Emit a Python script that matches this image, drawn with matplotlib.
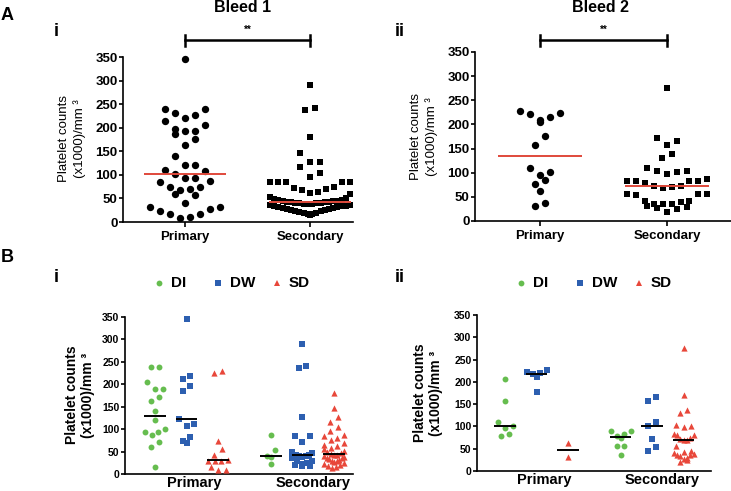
import numpy as np
import matplotlib
matplotlib.use('Agg')
import matplotlib.pyplot as plt
import matplotlib.transforms as mtransforms
from matplotlib.lines import Line2D

plt.rcParams['font.family'] = ['Liberation Sans', 'DejaVu Sans']

# ---------------- data ----------------
categories = ['Primary', 'Secondary']
groups = ['DI', 'DW', 'SD']

# Panel A (all patients)
bleed1_primary = [345, 240, 240, 232, 226, 220, 214, 206, 198, 192, 192, 186, 176, 164, 141,
                  121, 120, 110, 108, 101, 94, 94, 87, 84, 75, 75, 71, 68, 60, 57, 41, 31, 31,
                  28, 23, 16, 16, 11, 9]
bleed1_secondary = [291, 241, 237, 181, 147, 127, 127, 117, 103, 96, 84, 84, 84, 84, 84, 75, 73,
                    69, 68, 64, 62, 60, 52, 50, 48, 47, 46, 45, 44, 44, 43, 43, 42, 42, 41, 41,
                    40, 40, 39, 38, 38, 37, 36, 35, 34, 33, 32, 31, 30, 29, 28, 27, 26, 25, 24,
                    23, 22, 20, 19, 17, 16, 14]
bleed2_primary = [228, 223, 221, 215, 210, 206, 177, 158, 110, 101, 95, 84, 77, 62, 38, 31]
bleed2_secondary = [276, 171, 166, 157, 138, 130, 110, 104, 103, 102, 98, 88, 82, 82, 82, 82, 78,
                    73, 72, 71, 68, 56, 56, 55, 53, 41, 41, 40, 36, 36, 35, 32, 28, 26, 25, 18]

# Panel B (by group)
b1_primary = {
    'DI': [238, 238, 204, 190, 190, 172, 163, 140, 120, 100, 94, 94, 87, 71, 61, 15],
    'DW': [345, 218, 211, 197, 184, 122, 111, 108, 83, 74, 68],
    'SD': [230, 225, 73, 56, 42, 32, 30, 30, 28, 15, 10, 10],
}
b1_secondary = {
    'DI': [86, 54, 40, 38, 23],
    'DW': [290, 240, 236, 128, 85, 85, 72, 50, 46, 43, 42, 41, 40, 38, 35, 30, 28, 25, 22, 20, 18, 17],
    'SD': [180, 147, 127, 117, 105, 96, 86, 84, 80, 75, 70, 65, 62, 58, 55, 52, 48, 46, 44, 43, 42,
           40, 38, 36, 35, 33, 31, 30, 28, 26, 24, 22, 20, 17, 15, 13],
}
b2_primary = {
    'DI': [207, 158, 109, 102, 96, 84, 78],
    'DW': [227, 223, 219, 217, 212, 177],
    'SD': [63, 31],
}
b2_secondary = {
    'DI': [90, 89, 83, 78, 74, 57, 57, 37],
    'DW': [166, 156, 110, 102, 72, 53, 44],
    'SD': [275, 171, 137, 130, 104, 102, 98, 83, 81, 80, 75, 72, 70, 70, 55, 45, 42, 40, 38, 37,
           35, 33, 30, 27, 25, 20],
}
yticks = [0, 50, 100, 150, 200, 250, 300, 350]

# ---------------- layout ----------------
W, H = 731, 491
fig = plt.figure(figsize=(W / 100, H / 100), dpi=100)


def ax_px(l, r, top, bottom):
    return fig.add_axes([l / W, 1 - bottom / H, (r - l) / W, (bottom - top) / H])


def fx(x):
    return x / W


def fy(y):
    return 1 - y / H


def rows_layout(ax, xc, values, gap_px, step_px, max_half_px):
    """Prism-like scatter: neighbouring values grouped into rows spread horizontally."""
    vals = np.asarray(values, float)
    pts = ax.transData.transform(np.column_stack([np.full(len(vals), xc), vals]))
    ypx = pts[:, 1]
    xc_px = pts[0, 0]
    order = np.argsort(-vals, kind='stable')
    rows, cur, start = [], [order[0]], ypx[order[0]]
    for i in order[1:]:
        if start - ypx[i] < gap_px:
            cur.append(i)
        else:
            rows.append(cur)
            cur, start = [i], ypx[i]
    rows.append(cur)
    xoff = np.zeros(len(vals))
    for idx in rows:
        idx = sorted(idx, key=lambda j: vals[j])
        n = len(idx)
        if n == 1:
            continue
        step = min(step_px, 2 * max_half_px / (n - 1))
        offs = (np.arange(n) - (n - 1) / 2) * step
        left = list(range((n - 1) // 2, -1, -1))
        right = list(range((n - 1) // 2 + 1, n))
        seq = []
        while left or right:
            if left:
                seq.append(left.pop(0))
            if right:
                seq.append(right.pop(0))
        for k, j in enumerate(idx):
            xoff[j] = offs[seq[k]]
    return ax.transData.inverted().transform(np.column_stack([xc_px + xoff, ypx]))[:, 0]


def style_axes(ax, ytick_size):
    for s in ['top', 'right']:
        ax.spines[s].set_visible(False)
    for s in ['left', 'bottom']:
        ax.spines[s].set_linewidth(1.2)
    ax.set_ylim(0, 350)
    ax.set_yticks(yticks)
    ax.set_yticklabels([str(t) for t in yticks], fontsize=ytick_size, fontweight='bold')
    ax.tick_params(axis='y', length=3, width=1.2, pad=1)
    ax.patch.set_alpha(0)


red_line = '#e0493b'
col = {'DI': '#66bd4f', 'DW': '#2d5fb0', 'SD': '#e8473a'}
mk = {'DI': 'o', 'DW': 's', 'SD': '^'}
msz = {'DI': 18, 'DW': 17, 'SD': 20}

# ---- Panel A ----
A_specs = [
    (ax_px(123, 353, 57, 222), (-0.496, 1.344), bleed1_primary, bleed1_secondary),
    (ax_px(475, 731, 52, 221), (-0.508, 1.5), bleed2_primary, bleed2_secondary),
]
for ax, xl, prim, sec in A_specs:
    style_axes(ax, 9.5)
    ax.set_xlim(*xl)
    ax.set_xticks([0, 1])
    ax.set_xticklabels(categories, fontsize=9.5, fontweight='bold')
    ax.tick_params(axis='x', length=3.5, width=1.2, pad=3)
    for xi, (vals, m) in enumerate([(prim, 'o'), (sec, 's')]):
        xs = rows_layout(ax, xi, vals, 10.5, 10, 40)
        ax.scatter(xs, vals, s=28 if m == 'o' else 25, marker=m, c='black',
                   linewidths=0, zorder=3, clip_on=False)
        med = np.median(vals)
        ax.plot([xi - 0.33, xi + 0.33], [med, med], color=red_line, lw=1.4, zorder=4,
                solid_capstyle='butt')
    # significance bar
    tr = mtransforms.blended_transform_factory(ax.transData, fig.transFigure)
    ax.add_line(Line2D([0, 1], [fy(40), fy(40)], transform=tr, color='black', lw=1.8,
                       clip_on=False))
    for xe in (0, 1):
        ax.add_line(Line2D([xe, xe], [fy(34.5), fy(45.5)], transform=tr, color='black',
                           lw=1.8, clip_on=False))
    ax.text(0.5, fy(30), '**', transform=tr, ha='center', va='center', fontsize=7,
            fontweight='bold')

# ---- Panel B ----
pos = {('Primary', 'DI'): 0, ('Primary', 'DW'): 1, ('Primary', 'SD'): 2,
       ('Secondary', 'DI'): 3.67, ('Secondary', 'DW'): 4.67, ('Secondary', 'SD'): 5.67}
B_specs = [
    (ax_px(125, 353, 317, 474), (-0.95, 6.27), b1_primary, b1_secondary),
    (ax_px(477, 711, 315, 471), (-0.89, 6.54), b2_primary, b2_secondary),
]
for ax, xl, prim, sec in B_specs:
    style_axes(ax, 7.5)
    ax.set_xlim(*xl)
    ax.set_xticks([1.25, 5.0])
    ax.set_xticklabels(categories, fontsize=10.5, fontweight='bold')
    ax.tick_params(axis='x', length=0, pad=1.5)
    for cat, dd in zip(categories, [prim, sec]):
        for g in groups:
            vals = dd[g]
            xc = pos[(cat, g)]
            xs = rows_layout(ax, xc, vals, 6.5, 7.5, 10)
            ax.scatter(xs, vals, s=msz[g], marker=mk[g], c=col[g], linewidths=0,
                       zorder=3, clip_on=False)
            med = np.median(vals)
            ax.plot([xc - 0.34, xc + 0.34], [med, med], color='black', lw=1.4, zorder=4,
                    solid_capstyle='butt')

# ---- texts ----
fig.text(fx(243), fy(8), 'Bleed 1', ha='center', va='center', fontsize=11.5, fontweight='bold')
fig.text(fx(601), fy(8), 'Bleed 2', ha='center', va='center', fontsize=11.5, fontweight='bold')
fig.text(fx(7), fy(16), 'A', ha='center', va='center', fontsize=13, fontweight='bold')
fig.text(fx(7), fy(258), 'B', ha='center', va='center', fontsize=13, fontweight='bold')
for x, y, t in [(56, 32, 'i'), (400, 32, 'ii'), (56, 278, 'i'), (400, 278, 'ii')]:
    fig.text(fx(x), fy(y), t, ha='center', va='center', fontsize=13, fontweight='bold')

ylab = 'Platelet counts\n(x1000)/mm \u00b3'
fig.text(fx(72), fy(139), ylab, rotation=90, ha='center', va='center', fontsize=9.5,
         linespacing=1.25, multialignment='center')
fig.text(fx(424), fy(137), ylab, rotation=90, ha='center', va='center', fontsize=9.5,
         linespacing=1.25, multialignment='center')
fig.text(fx(80), fy(395), ylab, rotation=90, ha='center', va='center', fontsize=10,
         fontweight='bold', linespacing=1.15, multialignment='center')
fig.text(fx(428), fy(393), ylab, rotation=90, ha='center', va='center', fontsize=10,
         fontweight='bold', linespacing=1.15, multialignment='center')

# ---- legends (B) ----
for mx in (159, 521):
    for k, g in enumerate(groups):
        x0 = mx + k * 59
        fig.add_artist(Line2D([fx(x0)], [fy(283)], marker=mk[g], color=col[g], ls='none',
                              markersize=4.2, markeredgewidth=0))
        fig.text(fx(x0 + 12), fy(283), g, ha='left', va='center', fontsize=11,
                 fontweight='bold')

fig.savefig('out.png', dpi=100)
